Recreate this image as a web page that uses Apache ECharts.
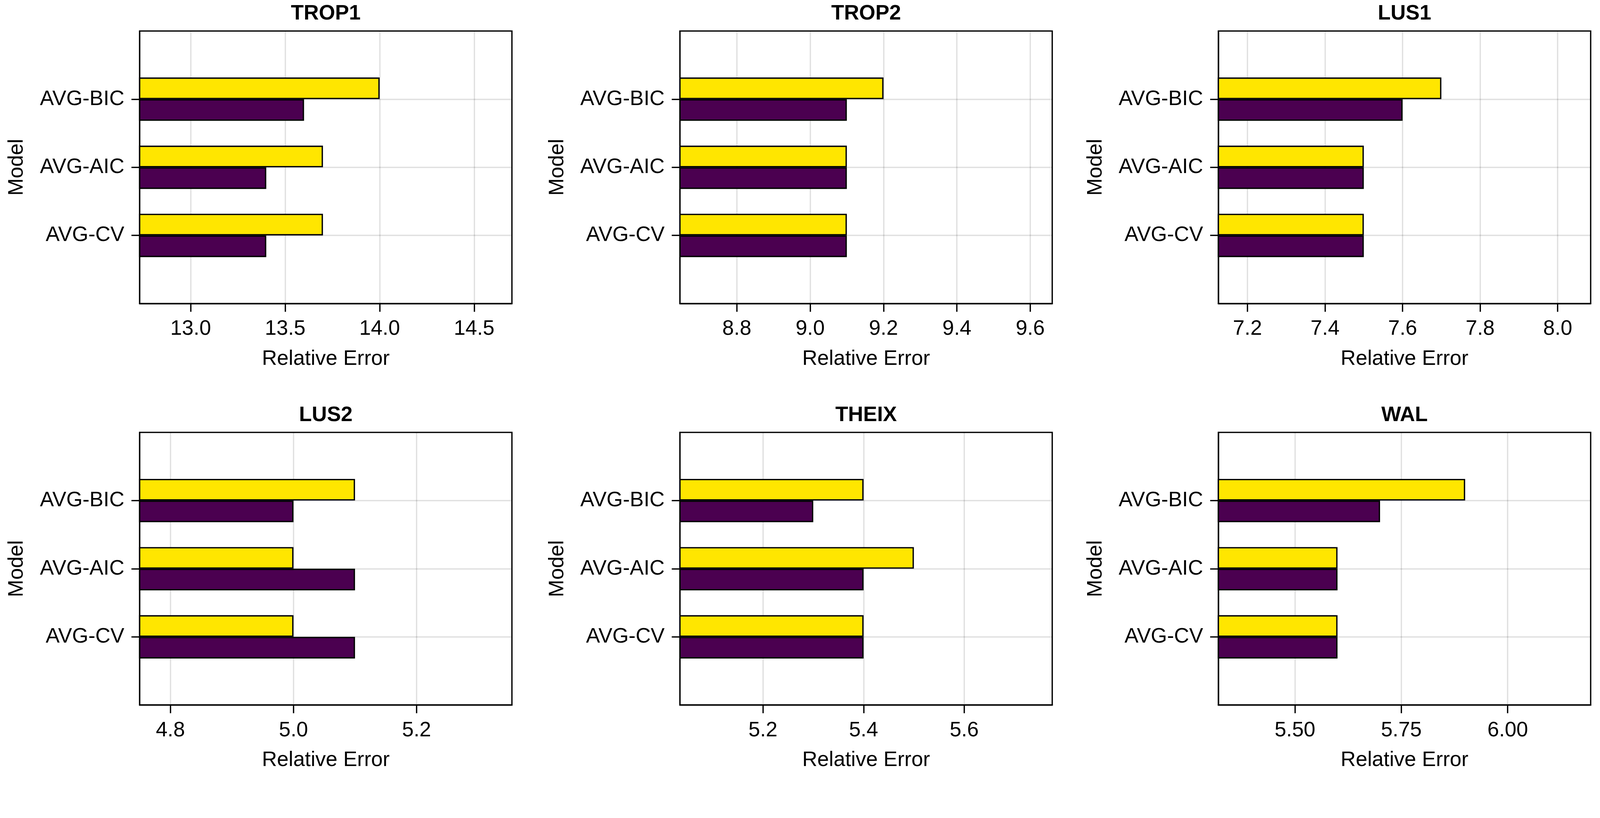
<!DOCTYPE html>
<html><head><meta charset="utf-8">
<script src="https://cdn.jsdelivr.net/npm/echarts@6/dist/echarts.min.js"></script>
<style>html,body{margin:0;padding:0;background:#fff;overflow:hidden;width:100%;height:100%}#c{width:100vw;height:100vh}</style>
</head><body><div id="c"></div>
<script>
const panelTitles = ['TROP1', 'TROP2', 'LUS1', 'LUS2', 'THEIX', 'WAL'];
const models = ['AVG-CV', 'AVG-AIC', 'AVG-BIC'];
// values in model order: AVG-CV, AVG-AIC, AVG-BIC
const trop1Yellow = [13.7, 13.7, 14.0];
const trop1Purple = [13.4, 13.4, 13.6];
const trop2Yellow = [9.1, 9.1, 9.2];
const trop2Purple = [9.1, 9.1, 9.1];
const lus1Yellow = [7.5, 7.5, 7.7];
const lus1Purple = [7.5, 7.5, 7.6];
const lus2Yellow = [5.0, 5.0, 5.1];
const lus2Purple = [5.1, 5.1, 5.0];
const theixYellow = [5.4, 5.5, 5.4];
const theixPurple = [5.4, 5.4, 5.3];
const walYellow = [5.6, 5.6, 5.9];
const walPurple = [5.6, 5.6, 5.7];
// tick labels
const trop1Ticks = ['13.0', '13.5', '14.0', '14.5'];
const trop2Ticks = ['8.8', '9.0', '9.2', '9.4', '9.6'];
const lus1Ticks = ['7.2', '7.4', '7.6', '7.8', '8.0'];
const lus2Ticks = ['4.8', '5.0', '5.2'];
const theixTicks = ['5.2', '5.4', '5.6'];
const walTicks = ['5.50', '5.75', '6.00'];

const yellowSets = [trop1Yellow, trop2Yellow, lus1Yellow, lus2Yellow, theixYellow, walYellow];
const purpleSets = [trop1Purple, trop2Purple, lus1Purple, lus2Purple, theixPurple, walPurple];
const tickSets = [trop1Ticks, trop2Ticks, lus1Ticks, lus2Ticks, theixTicks, walTicks];

// layout designed for 4285 x 2094, scaled uniformly to the actual viewport width
const el = document.getElementById('c');
const VW = el.clientWidth || window.innerWidth || 4285;
const s = VW / 4285;
const colLeft = [374, 1821, 3263].map(v => v * s);
const rowTop = [83, 1158].map(v => v * s);
const plotW = 997 * s, plotH = 730 * s;
const FONT = 'Liberation Sans';
const FS = 56 * s;
const LW = 3.5 * s;
const YELLOW = '#FFE600';
const PURPLE = '#4B0050';

// padded category axis: empty slots at both ends so categories sit at 1/4, 1/2, 3/4
const yCats = [''].concat(models).concat([' ']);
const isReal = (idx, val) => idx > 0 && idx < yCats.length - 1;

const grids = [], xAxes = [], yAxes = [], series = [], titles = [];
for (let i = 0; i < 6; i++) {
  const r = Math.floor(i / 3), c = i % 3;
  const yv = yellowSets[i], pv = purpleSets[i];
  const all = yv.concat(pv);
  const lo = 0.95 * Math.min.apply(null, all);
  const hi = 1.05 * Math.max.apply(null, all);
  const labels = tickSets[i];
  const tickVals = labels.map(parseFloat);
  grids.push({
    left: colLeft[c], top: rowTop[r], width: plotW, height: plotH,
    show: true, borderColor: '#000', borderWidth: LW, backgroundColor: '#fff',
    containLabel: false, outerBoundsMode: 'none'
  });
  titles.push({
    text: panelTitles[i], left: colLeft[c] + plotW / 2, top: rowTop[r] - 74 * s,
    textAlign: 'center', padding: 0,
    textStyle: { fontFamily: FONT, fontSize: FS, fontWeight: 'bold', color: '#000', lineHeight: FS }
  });
  xAxes.push({
    type: 'value', gridIndex: i, min: lo, max: hi,
    name: 'Relative Error', nameLocation: 'middle', nameGap: 120 * s,
    nameTextStyle: { fontFamily: FONT, fontSize: FS, color: '#000' },
    axisLine: { show: true, onZero: false, lineStyle: { color: '#000', width: LW } },
    axisTick: { show: true, inside: false, length: 22 * s, customValues: tickVals, lineStyle: { color: '#000', width: LW } },
    axisLabel: {
      show: true, margin: 40 * s, customValues: tickVals,
      fontFamily: FONT, fontSize: FS, color: '#000',
      formatter: v => { const l = labels.find(t => Math.abs(parseFloat(t) - v) < 1e-9); return l !== undefined ? l : ''; }
    },
    splitLine: { show: true, lineStyle: { color: 'rgba(0,0,0,0.12)', width: LW } }
  });
  yAxes.push({
    type: 'category', gridIndex: i, data: yCats, boundaryGap: false,
    name: 'Model', nameLocation: 'middle', nameGap: 300 * s,
    nameTextStyle: { fontFamily: FONT, fontSize: FS, color: '#000' },
    axisLine: { show: true, onZero: false, lineStyle: { color: '#000', width: LW } },
    axisTick: { show: true, inside: false, length: 22 * s, interval: isReal, lineStyle: { color: '#000', width: LW } },
    axisLabel: { show: true, margin: 41 * s, interval: isReal, fontFamily: FONT, fontSize: FS, color: '#000' },
    splitLine: { show: true, interval: isReal, lineStyle: { color: 'rgba(0,0,0,0.12)', width: LW } }
  });
  const pad = arr => [null].concat(arr).concat([null]);
  series.push({
    type: 'bar', name: 'yellow', xAxisIndex: i, yAxisIndex: i,
    data: pad(yv), barWidth: 58 * s, barGap: '0%',
    itemStyle: { color: YELLOW, borderColor: '#000', borderWidth: LW },
    emphasis: { disabled: true }, animation: false
  });
  series.push({
    type: 'bar', name: 'purple', xAxisIndex: i, yAxisIndex: i,
    data: pad(pv), barWidth: 58 * s, barGap: '0%',
    itemStyle: { color: PURPLE, borderColor: '#000', borderWidth: LW },
    emphasis: { disabled: true }, animation: false
  });
}

const chart = echarts.init(el, null, { renderer: 'canvas' });
chart.setOption({
  backgroundColor: '#fff',
  animation: false,
  title: titles,
  grid: grids,
  xAxis: xAxes,
  yAxis: yAxes,
  series: series
});
</script>
</body></html>
